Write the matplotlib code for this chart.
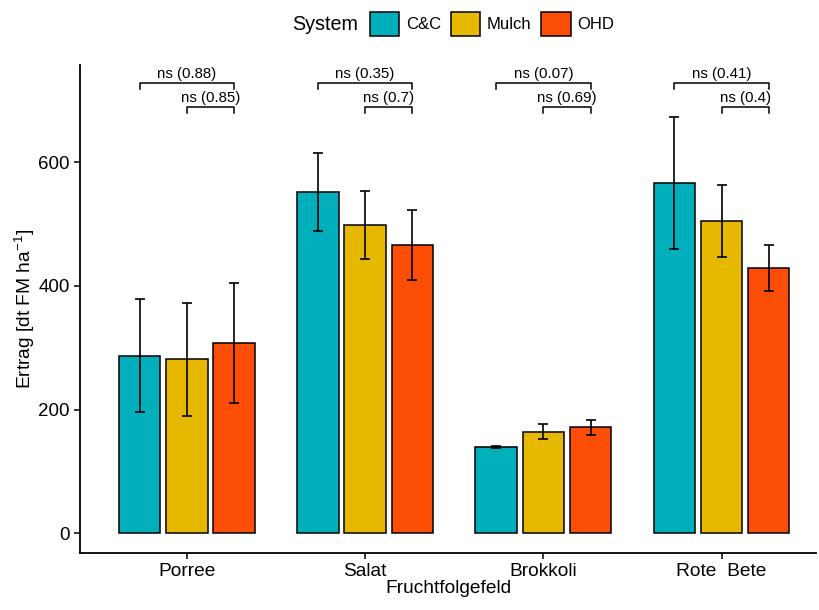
import numpy as np
import matplotlib.pyplot as plt
from matplotlib.patches import Patch

plt.rcParams['font.family'] = ['Liberation Sans', 'DejaVu Sans']
plt.rcParams['mathtext.fontset'] = 'custom'
plt.rcParams['mathtext.rm'] = 'Liberation Sans'
plt.rcParams['mathtext.it'] = 'Liberation Sans'

# Daten
felder = ['Porree', 'Salat', 'Brokkoli', 'Rote  Bete']
systeme = ['C&C', 'Mulch', 'OHD']
farben = ['#00AFBB', '#E7B800', '#FC4E07']

mittel_cc = [287, 552, 139, 566]
mittel_mulch = [281, 498, 164, 505]
mittel_ohd = [307, 466, 171, 429]
fehler_cc = [91, 63, 2, 107]
fehler_mulch = [91, 55, 12, 58]
fehler_ohd = [97, 57, 12, 37]

p_cc_ohd = ['0.88', '0.35', '0.07', '0.41']
p_mulch_ohd = ['0.85', '0.7', '0.69', '0.4']

mittel = [mittel_cc, mittel_mulch, mittel_ohd]
fehler = [fehler_cc, fehler_mulch, fehler_ohd]

fig = plt.figure(figsize=(8.2, 6.1), dpi=100)
ax = fig.add_axes([80/820, 57/610, 736/820, 488/610])

x = np.arange(1, len(felder) + 1)
dodge = 0.265
breite = 0.232

for i in range(3):
    pos = x + (i - 1) * dodge
    ax.bar(pos, mittel[i], width=breite, color=farben[i], edgecolor='black', linewidth=1.1, zorder=2)
    ax.errorbar(pos, mittel[i], yerr=fehler[i], fmt='none', ecolor='black', elinewidth=1.2,
                capsize=3.5, capthick=1.2, zorder=3)

# Signifikanz-Klammern
for j in range(len(felder)):
    for (a, b, y, p) in [(0, 2, 728, p_cc_ohd[j]), (1, 2, 689, p_mulch_ohd[j])]:
        x1 = x[j] + (a - 1) * dodge
        x2 = x[j] + (b - 1) * dodge
        ax.plot([x1, x1, x2, x2], [y - 9, y, y, y - 9], color='black', linewidth=1.1, zorder=3)
        ax.text((x1 + x2) / 2, y + 3, 'ns (' + p + ')', ha='center', va='bottom', fontsize=10.8)

ax.set_xlim(0.4, 4.53)
ax.set_ylim(-32, 757)
ax.set_xticks(x)
ax.set_xticklabels(felder, fontsize=13.8)
ax.set_yticks([0, 200, 400, 600])
ax.tick_params(axis='y', labelsize=13.5, length=4, width=1.1)
ax.tick_params(axis='x', length=4, width=1.1, pad=3)
for s in ['top', 'right']:
    ax.spines[s].set_visible(False)
for s in ['left', 'bottom']:
    ax.spines[s].set_linewidth(1.3)

ax.set_xlabel('Fruchtfolgefeld', fontsize=13.8, labelpad=0)
ax.set_ylabel(r'Ertrag [dt FM ha$^{\mathregular{-1}}$]', fontsize=13.8, labelpad=1)

handles = [Patch(facecolor=farben[i], edgecolor='black', linewidth=1.1, label=systeme[i]) for i in range(3)]
fig.text(292/820, 1 - 24/610, 'System', fontsize=14.2, va='center', ha='left')
fig.legend(handles=handles, loc='center left', bbox_to_anchor=(370/820, 1 - 24/610), ncol=3,
           frameon=False, fontsize=12, handlelength=1.75, handleheight=1.75, handletextpad=0.4,
           columnspacing=0.6, borderpad=0, borderaxespad=0)

fig.savefig('out.png', dpi=100)
